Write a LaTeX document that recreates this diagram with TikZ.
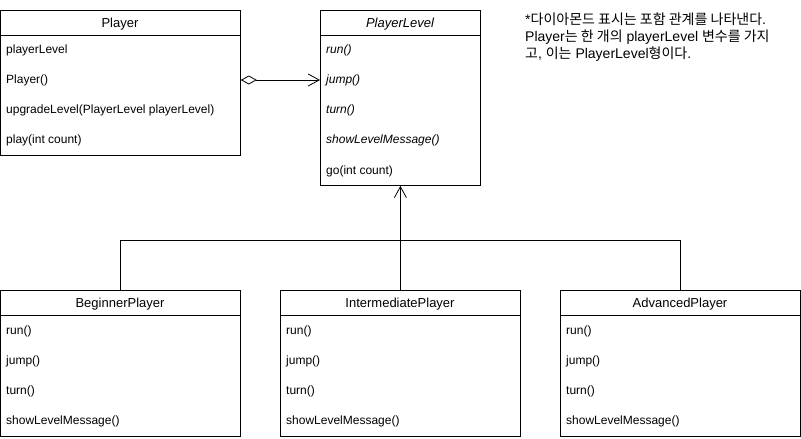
\documentclass[tikz,border=0pt]{standalone}
\usepackage{fontspec}
\setmainfont{Liberation Sans}
\newfontfamily\kr{Noto Sans CJK KR}
\usetikzlibrary{arrows.meta}
\begin{document}
\begin{tikzpicture}[x=1pt,y=-1pt,
  classbox/.style={draw,line width=0.8pt,minimum width=240pt,inner sep=0pt,anchor=north west},
  hdr/.style={font=\fontsize{13}{15}\selectfont,anchor=center,yshift=-1.5pt},
  item/.style={font=\fontsize{12}{14}\selectfont,anchor=west,inner sep=0pt,yshift=-2.5pt},
  itm/.style={item,font=\fontsize{12}{14}\selectfont\itshape},
  conn/.style={line width=0.8pt},
  barb/.style={-{Straight Barb[length=11pt,width=12pt,line width=0.8pt]}},
]
\useasboundingbox (0,0) rectangle (801,439);
% Player
\node[classbox,minimum width=240pt,minimum height=145pt] (player) at (0,10) {};
\draw[conn] (0,35) -- (240,35);
\node[hdr] (playerT) at (120,22.5) {Player};
\node[item] (p1) at (6,48) {playerLevel};
\node[item] (p2) at (6,78) {Player()};
\node[item] (p3) at (6,108) {upgradeLevel(PlayerLevel playerLevel)};
\node[item] (p4) at (6,138) {play(int count)};
% PlayerLevel
\node[classbox,minimum width=160pt,minimum height=175pt] (level) at (320,10) {};
\draw[conn] (320,35) -- (480,35);
\node[hdr,font=\fontsize{13}{15}\selectfont\itshape] (levelT) at (400,22.5) {PlayerLevel};
\node[itm] (l1) at (326,48) {run()};
\node[itm] (l2) at (326,78) {jump()};
\node[itm] (l3) at (326,108) {turn()};
\node[itm] (l4) at (326,138) {showLevelMessage()};
\node[item] (l5) at (326,169) {go(int count)};
% Subclasses
\foreach \nm/\x/\t in {beg/0/BeginnerPlayer,mid/280/IntermediatePlayer,adv/560/AdvancedPlayer}{
  \node[classbox,minimum width=240pt,minimum height=146pt] (\nm) at (\x,290) {};
  \draw[conn] (\x,315) -- (\x+240,315);
  \node[hdr] (\nm T) at (\x+120,302.5) {\t};
  \node[item] (\nm1) at (\x+6,329) {run()};
  \node[item] (\nm2) at (\x+6,359) {jump()};
  \node[item] (\nm3) at (\x+6,389) {turn()};
  \node[item] (\nm4) at (\x+6,419) {showLevelMessage()};
}
% aggregation
\coordinate (aggy) at (0,80);
\draw[conn,{Diamond[open,length=16pt,width=9pt,line width=0.8pt]}-{Straight Barb[length=11pt,width=12pt,line width=0.8pt]}]
  (player.east |- aggy) -- (level.west |- aggy);
% inheritance
\coordinate (bus) at (400,240);
\draw[conn] (beg.north) -- (beg.north |- bus) -- (adv.north |- bus) -- (adv.north);
\draw[conn,barb] (mid.north) -- (level.south);
% note
\node[anchor=north west,align=left,inner sep=0pt,font=\fontsize{14}{17}\selectfont] (note) at (525,13)
{*{\kr 다이아몬드 표시는 포함 관계를 나타낸다}.\\
Player{\kr 는 한 개의} playerLevel {\kr 변수를 가지}\\
{\kr 고}, {\kr 이는} PlayerLevel{\kr 형이다}.};
\end{tikzpicture}
\end{document}
